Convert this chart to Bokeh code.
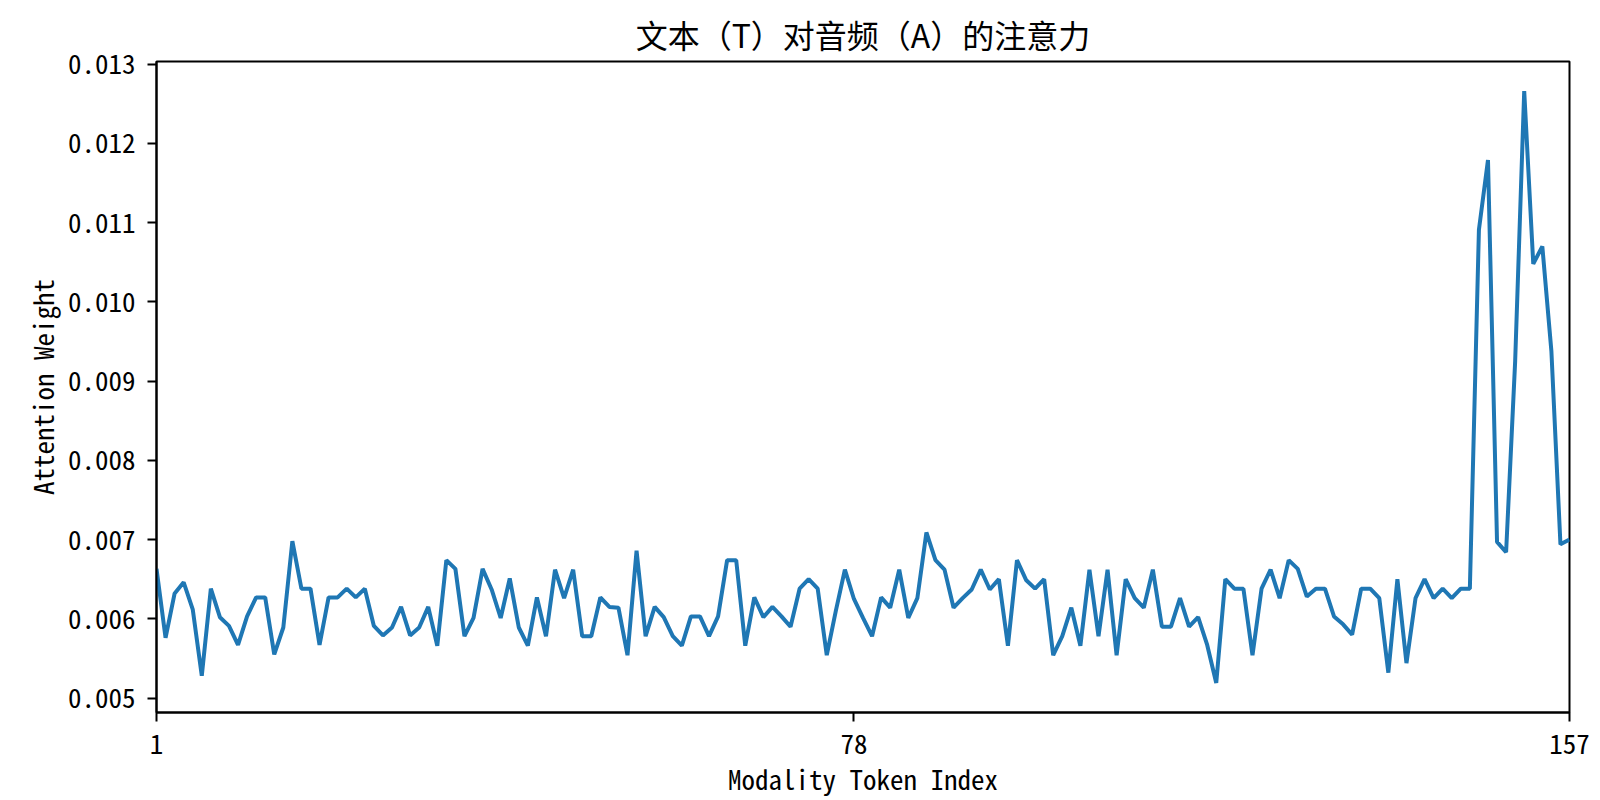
from bokeh.plotting import figure
from bokeh.models import FixedTicker, Range1d, CustomJSTickFormatter
from bokeh.embed import file_html
from bokeh.resources import INLINE

title_text = "文本（T）对音频（A）的注意力"
x_label = "Modality Token Index"
y_label = "Attention Weight"

token_index = list(range(1, 158))
attention = [
    0.00663, 0.00576, 0.00632, 0.00646, 0.00612, 0.00528, 0.00638, 0.00602, 0.00591, 0.00567,
    0.00603, 0.00627, 0.00627, 0.00555, 0.00589, 0.00698, 0.00638, 0.00638, 0.00567, 0.00627,
    0.00627, 0.00638, 0.00627, 0.00638, 0.00591, 0.00579, 0.00589, 0.00615, 0.00579, 0.00589,
    0.00615, 0.00566, 0.00674, 0.00663, 0.00578, 0.00601, 0.00663, 0.00637, 0.00601, 0.00651,
    0.00589, 0.00566, 0.00627, 0.00578, 0.00662, 0.00626, 0.00662, 0.00578, 0.00578, 0.00627,
    0.00615, 0.00614, 0.00554, 0.00686, 0.00578, 0.00615, 0.00602, 0.00578, 0.00566, 0.00603,
    0.00603, 0.00578, 0.00603, 0.00674, 0.00674, 0.00566, 0.00627, 0.00602, 0.00615, 0.00603,
    0.00590, 0.00638, 0.00650, 0.00638, 0.00554, 0.00610, 0.00662, 0.00625, 0.00601, 0.00578,
    0.00627, 0.00614, 0.00662, 0.00601, 0.00626, 0.00709, 0.00674, 0.00662, 0.00614, 0.00626,
    0.00637, 0.00662, 0.00637, 0.00650, 0.00566, 0.00674, 0.00649, 0.00638, 0.00650, 0.00554,
    0.00578, 0.00614, 0.00566, 0.00662, 0.00578, 0.00662, 0.00554, 0.00650, 0.00626, 0.00614,
    0.00662, 0.00590, 0.00590, 0.00626, 0.00590, 0.00602, 0.00567, 0.00519, 0.00650, 0.00638,
    0.00638, 0.00554, 0.00638, 0.00662, 0.00626, 0.00674, 0.00663, 0.00628, 0.00638, 0.00638,
    0.00603, 0.00593, 0.00580, 0.00638, 0.00638, 0.00626, 0.00532, 0.00650, 0.00544, 0.00626,
    0.00650, 0.00626, 0.00638, 0.00626, 0.00638, 0.00638, 0.01091, 0.01179, 0.00697, 0.00684,
    0.00925, 0.01266, 0.01048, 0.01070, 0.00938, 0.00694, 0.00700,
]
x_ticks = [1, 78, 157]
y_ticks = [0.005, 0.006, 0.007, 0.008, 0.009, 0.010, 0.011, 0.012, 0.013]

FONT = "'Noto Sans Mono CJK SC', 'Noto Sans CJK SC', 'DejaVu Sans Mono'"

p = figure(width=1600, height=800, output_backend="svg", toolbar_location=None,
           x_range=Range1d(1, 157), y_range=Range1d(0.004817, 0.013034),
           min_border_left=156, min_border_right=31, min_border_top=61, min_border_bottom=88)

p.line(token_index, attention, line_color="#1f77b4", line_width=4)

p.title.text = title_text
p.title.align = "center"
p.title.vertical_align = "top"
p.title.text_font = "'Noto Sans CJK SC'"
p.title.text_font_size = "32px"
p.title.text_font_style = "normal"
p.title.text_color = "black"
p.title.standoff = 6

p.xgrid.visible = False
p.ygrid.visible = False
p.outline_line_color = "black"
p.outline_line_width = 2
p.outline_line_alpha = 1

p.xaxis.ticker = FixedTicker(ticks=x_ticks)
p.yaxis.ticker = FixedTicker(ticks=y_ticks)
p.yaxis.formatter = CustomJSTickFormatter(code="return tick.toFixed(3);")

for ax in (p.xaxis[0], p.yaxis[0]):
    ax.axis_line_color = "black"
    ax.axis_line_width = 2
    ax.major_tick_line_color = "black"
    ax.major_tick_line_width = 2
    ax.major_tick_out = 9
    ax.major_tick_in = 0
    ax.minor_tick_out = 0
    ax.minor_tick_in = 0
    ax.major_label_text_font = FONT
    ax.major_label_text_font_size = "27px"
    ax.major_label_text_color = "black"
    ax.axis_label_text_font = FONT
    ax.axis_label_text_font_size = "27px"
    ax.axis_label_text_font_style = "normal"
    ax.axis_label_text_color = "black"

p.xaxis.axis_label = x_label
p.yaxis.axis_label = y_label
p.xaxis.major_label_standoff = 12
p.yaxis.major_label_standoff = 12
p.xaxis.axis_label_standoff = 2
p.yaxis.axis_label_standoff = 3

open("out.html", "w").write(file_html(p, INLINE))
